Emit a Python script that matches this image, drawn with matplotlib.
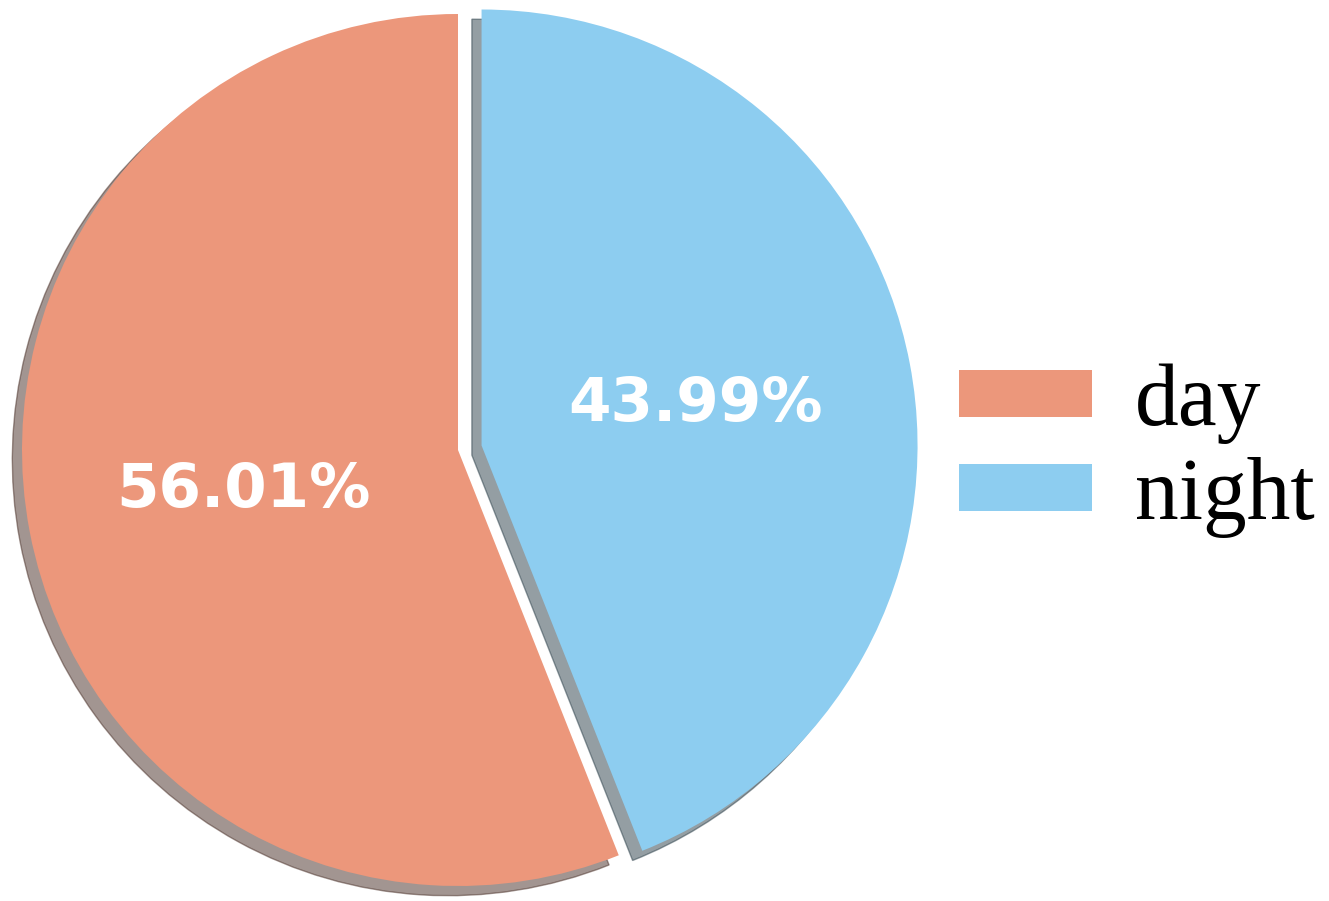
import matplotlib.pyplot as plt

# data
labels = ["day", "night"]
shares = [56.01, 43.99]
colors = ["#EC977B", "#8DCDF0"]
explode = [0, 0.055]

fig = plt.figure(figsize=(13.29, 9.01), dpi=100)

# pie axes placed so the circle sits on the left half
W, H = 1329, 901
r_px = 436
cx, cy = 458, 901 - 450
lim = 1.1
box = 2 * lim * r_px
ax = fig.add_axes([(cx - box / 2) / W, (cy - box / 2) / H, box / W, box / H])

wedges, texts, autotexts = ax.pie(
    shares,
    colors=colors,
    explode=explode,
    startangle=90,
    shadow={"ox": -0.016, "oy": -0.016},
    autopct="%.2f%%",
    pctdistance=0.5,
    textprops={"color": "white", "fontweight": "bold", "fontsize": 44,
               "family": "DejaVu Sans"},
)
ax.set_xlim(-lim, lim)
ax.set_ylim(-lim, lim)
ax.set_aspect("equal")
ax.axis("off")

fig.legend(
    wedges, labels,
    loc="center left",
    bbox_to_anchor=(0.662, 0.500),
    frameon=False,
    prop={"family": "Liberation Serif", "size": 63},
    handlelength=1.52,
    handleheight=0.45,
    handletextpad=0.5,
    labelspacing=0.15,
)

plt.savefig("out.png", dpi=100)
